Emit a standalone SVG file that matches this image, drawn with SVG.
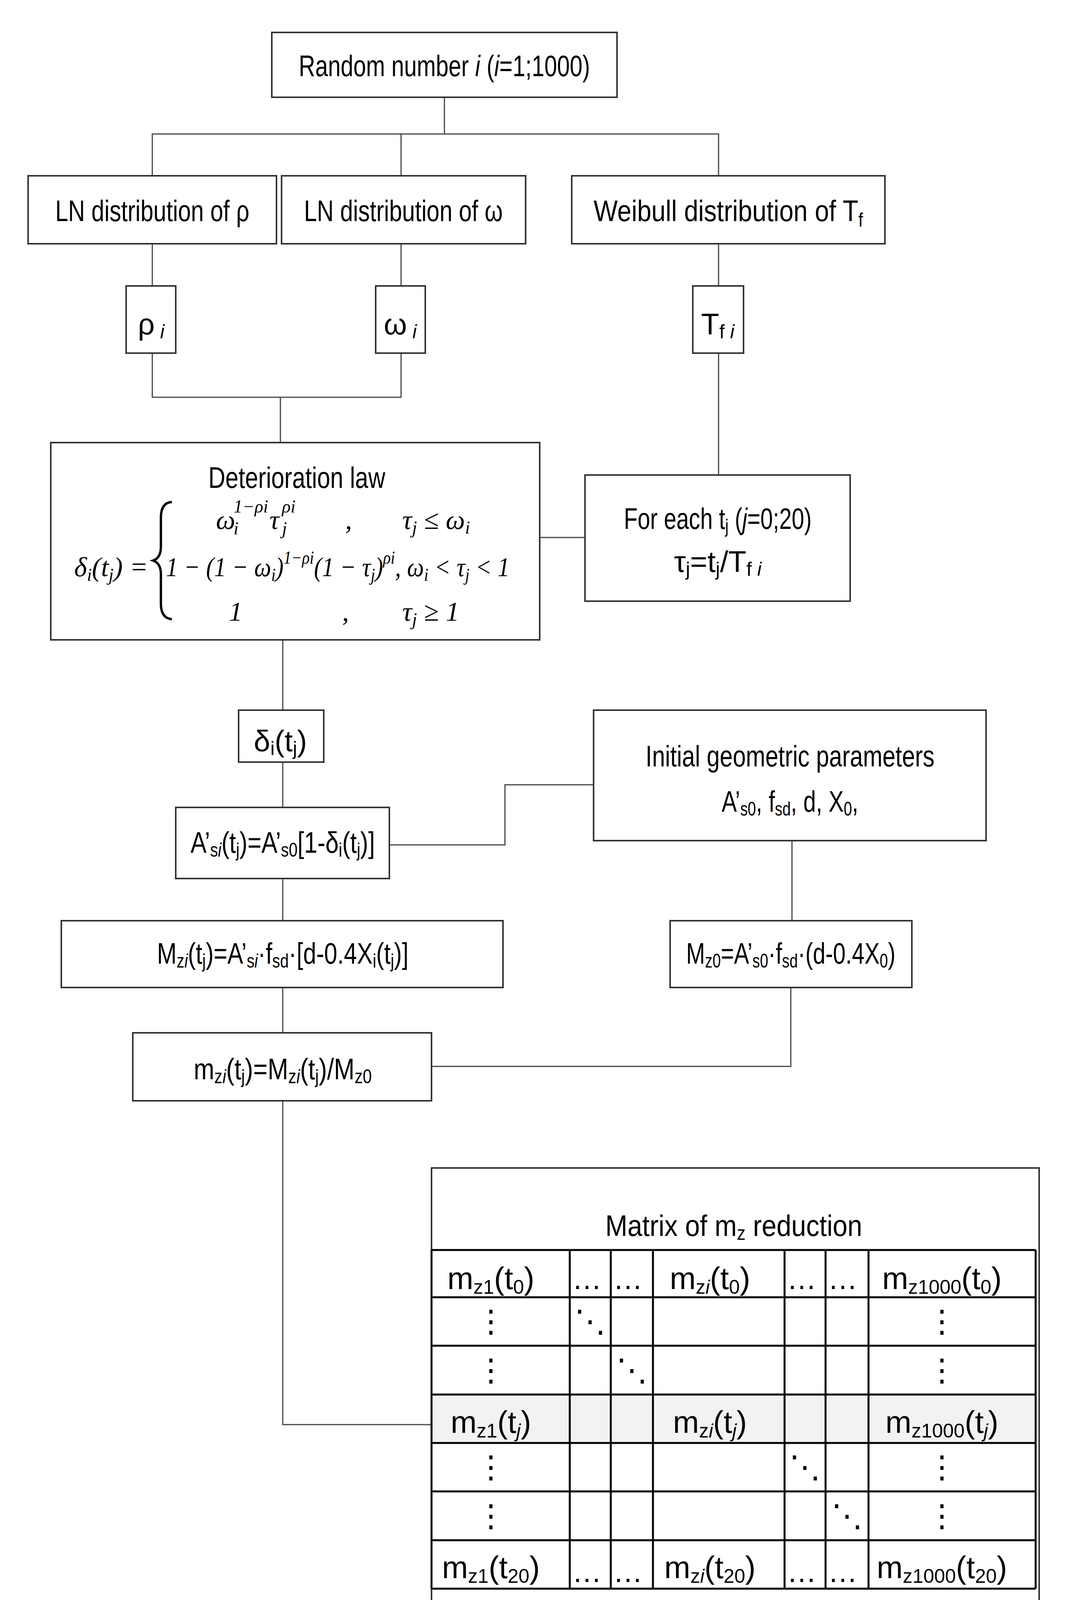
<svg xmlns="http://www.w3.org/2000/svg" width="2763" height="4377" viewBox="0 0 2763 4377">
<style>
.b{fill:#fff;stroke:#333;stroke-width:4}
.c{fill:none;stroke:#444;stroke-width:3}
.g{stroke:#000;stroke-width:5}
text{font-family:"Liberation Sans Narrow","Liberation Sans",sans-serif;font-size:76px;fill:#000}
.m{text-anchor:middle}
.f{font-family:"Liberation Serif",serif;font-style:italic;font-size:70px}
.s{font-size:50px}
.fs{font-family:"Liberation Serif",serif;font-style:italic;font-size:46px}
.d{font-size:80px;text-anchor:middle}
</style>
<rect width="2763" height="4377" fill="#fff"/>
<g id="connectors">
<path class="c" d="M1138 249V343M390 450V343H1840V450M1027 343V450"/>
<path class="c" d="M390 624V732M1027 624V732M1840 624V732"/>
<path class="c" d="M390 904V1017H1027V904M718 1017V1133"/>
<path class="c" d="M1840 904V1216M1382 1376H1498"/>
<path class="c" d="M724 1638V1818M724 1951V2067M724 2249V2357M724 2528V2644"/>
<path class="c" d="M997 2163H1293V2009H1520M2028 2152V2357M1105 2730H2025V2528"/>
<path class="c" d="M724 2818V3647H1105"/>
</g>
<g id="n1"><rect class="b" x="696" y="83" width="884" height="166"/><text class="m" x="1138" y="195" textLength="746" lengthAdjust="spacingAndGlyphs">Random number <tspan font-style="italic">i</tspan> (<tspan font-style="italic">i</tspan>=1;1000)</text></g>
<g id="n2"><rect class="b" x="72" y="450" width="636" height="174"/><text class="m" x="390" y="566" textLength="497" lengthAdjust="spacingAndGlyphs">LN distribution of ρ</text></g>
<g id="n3"><rect class="b" x="721" y="450" width="625" height="174"/><text class="m" x="1033" y="566" textLength="509" lengthAdjust="spacingAndGlyphs">LN distribution of ω</text></g>
<g id="n4"><rect class="b" x="1464" y="450" width="802" height="174"/><text class="m" x="1865" y="566" textLength="690" lengthAdjust="spacingAndGlyphs">Weibull distribution of T<tspan class="s" dy="14">f</tspan></text></g>
<g id="n5"><rect class="b" x="323" y="732" width="127" height="172"/><text class="m" x="387" y="856">ρ<tspan class="s" font-style="italic" dy="10"> i</tspan></text></g>
<g id="n6"><rect class="b" x="962" y="732" width="127" height="172"/><text class="m" x="1025" y="856">ω<tspan class="s" font-style="italic" dy="10"> i</tspan></text></g>
<g id="n7"><rect class="b" x="1774" y="732" width="130" height="172"/><text class="m" x="1838" y="856">T<tspan class="s" dy="10">f <tspan font-style="italic">i</tspan></tspan></text></g>
<g id="n8"><rect class="b" x="130" y="1133" width="1252" height="505"/>
<text class="m" x="760" y="1249" textLength="453" lengthAdjust="spacingAndGlyphs">Deterioration law</text>
<text class="f" x="553" y="1354">ω</text><text class="fs" x="598" y="1368">i</text><text class="fs" x="598" y="1312">1−ρi</text>
<text class="f" x="690" y="1354">τ</text><text class="fs" x="722" y="1368">j</text><text class="fs" x="722" y="1312">ρi</text>
<text class="f" x="884" y="1354">,</text>
<text class="f" x="1030" y="1354">τ<tspan class="fs" dy="12">j</tspan><tspan dy="-12"> ≤ ω</tspan><tspan class="fs" dy="12">i</tspan></text>
<text class="f" x="190" y="1475">δ<tspan class="fs" dy="12">i</tspan><tspan dy="-12">(t</tspan><tspan class="fs" dy="12">j</tspan><tspan dy="-12">) =</tspan></text>
<path d="M440 1285Q412 1287 412 1325V1400Q412 1428 392 1435Q412 1442 412 1470V1545Q412 1583 440 1585" fill="none" stroke="#000" stroke-width="6"/>
<text class="f" x="425" y="1475" textLength="880" lengthAdjust="spacingAndGlyphs">1 − (1 − ω<tspan class="fs" dy="12">i</tspan><tspan dy="-12">)</tspan><tspan class="fs" dy="-32">1−ρi</tspan><tspan dy="32">(1 − τ</tspan><tspan class="fs" dy="12">j</tspan><tspan dy="-12">)</tspan><tspan class="fs" dy="-32">ρi</tspan><tspan dy="32">, ω</tspan><tspan class="fs" dy="12">i</tspan><tspan dy="-12"> &lt; τ</tspan><tspan class="fs" dy="12">j</tspan><tspan dy="-12"> &lt; 1</tspan></text>
<text class="f" x="586" y="1589">1</text><text class="f" x="876" y="1589">,</text>
<text class="f" x="1030" y="1589">τ<tspan class="fs" dy="12">j</tspan><tspan dy="-12"> ≥ 1</tspan></text>
</g>
<g id="n9"><rect class="b" x="1498" y="1216" width="679" height="323"/>
<text class="m" x="1838" y="1354" textLength="481" lengthAdjust="spacingAndGlyphs">For each t<tspan class="s" dy="10">j</tspan><tspan dy="-10"> (</tspan><tspan font-style="italic">j</tspan>=0;20)</text>
<text class="m" x="1838" y="1464">τ<tspan class="s" dy="10">j</tspan><tspan dy="-10">=t</tspan><tspan class="s" dy="10">j</tspan><tspan dy="-10">/T</tspan><tspan class="s" dy="10">f <tspan font-style="italic">i</tspan></tspan></text>
</g>
<g id="n10"><rect class="b" x="611" y="1818" width="218" height="133"/><text class="m" x="718" y="1923">δ<tspan class="s" dy="10">i</tspan><tspan dy="-10">(t</tspan><tspan class="s" dy="10">j</tspan><tspan dy="-10">)</tspan></text></g>
<g id="n11"><rect class="b" x="1520" y="1818" width="1005" height="334"/>
<text class="m" x="2023" y="1962" textLength="740" lengthAdjust="spacingAndGlyphs">Initial geometric parameters</text>
<text class="m" x="2023" y="2078" textLength="350" lengthAdjust="spacingAndGlyphs">A’<tspan class="s" dy="10">s0</tspan><tspan dy="-10">, f</tspan><tspan class="s" dy="10">sd</tspan><tspan dy="-10">, d, X</tspan><tspan class="s" dy="10">0</tspan><tspan dy="-10">,</tspan></text>
</g>
<g id="n12"><rect class="b" x="450" y="2067" width="547" height="182"/><text class="m" x="724" y="2183" textLength="472" lengthAdjust="spacingAndGlyphs">A’<tspan class="s" dy="10">s<tspan font-style="italic">i</tspan></tspan><tspan dy="-10">(t</tspan><tspan class="s" dy="10">j</tspan><tspan dy="-10">)=A’</tspan><tspan class="s" dy="10">s0</tspan><tspan dy="-10">[1-δ</tspan><tspan class="s" dy="10">i</tspan><tspan dy="-10">(t</tspan><tspan class="s" dy="10">j</tspan><tspan dy="-10">)]</tspan></text></g>
<g id="n13"><rect class="b" x="157" y="2357" width="1131" height="171"/><text class="m" x="724" y="2467" textLength="644" lengthAdjust="spacingAndGlyphs">M<tspan class="s" dy="10">z<tspan font-style="italic">i</tspan></tspan><tspan dy="-10">(t</tspan><tspan class="s" dy="10">j</tspan><tspan dy="-10">)=A’</tspan><tspan class="s" dy="10">s<tspan font-style="italic">i</tspan></tspan><tspan dy="-10">·f</tspan><tspan class="s" dy="10">sd</tspan><tspan dy="-10">·[d-0.4X</tspan><tspan class="s" dy="10">i</tspan><tspan dy="-10">(t</tspan><tspan class="s" dy="10">j</tspan><tspan dy="-10">)]</tspan></text></g>
<g id="n14"><rect class="b" x="1716" y="2357" width="619" height="171"/><text class="m" x="2025" y="2467" textLength="536" lengthAdjust="spacingAndGlyphs">M<tspan class="s" dy="10">z0</tspan><tspan dy="-10">=A’</tspan><tspan class="s" dy="10">s0</tspan><tspan dy="-10">·f</tspan><tspan class="s" dy="10">sd</tspan><tspan dy="-10">·(d-0.4X</tspan><tspan class="s" dy="10">0</tspan><tspan dy="-10">)</tspan></text></g>
<g id="n15"><rect class="b" x="340" y="2644" width="765" height="174"/><text class="m" x="724" y="2763" textLength="456" lengthAdjust="spacingAndGlyphs">m<tspan class="s" dy="10">z<tspan font-style="italic">i</tspan></tspan><tspan dy="-10">(t</tspan><tspan class="s" dy="10">j</tspan><tspan dy="-10">)=M</tspan><tspan class="s" dy="10">z<tspan font-style="italic">i</tspan></tspan><tspan dy="-10">(t</tspan><tspan class="s" dy="10">j</tspan><tspan dy="-10">)/M</tspan><tspan class="s" dy="10">z0</tspan></text></g>
<g id="matrix">
<rect class="b" x="1105" y="2990" width="1556" height="1287" stroke-width="3"/>
<text class="m" x="1879" y="3164" textLength="658" lengthAdjust="spacingAndGlyphs">Matrix of m<tspan class="s" dy="10">z</tspan><tspan dy="-10"> reduction</tspan></text>
<rect x="1105" y="3570" width="1547" height="124" fill="#f2f2f2"/>
<path class="g" fill="none" d="M1105 3200H2652M1105 3321H2652M1105 3445H2652M1105 3570H2652M1105 3694H2652M1105 3818H2652M1105 3943H2652M1105 4067H2652M1105 3200V4067M1459 3200V4067M1564 3200V4067M1672 3200V4067M2009 3200V4067M2114 3200V4067M2224 3200V4067M2652 3200V4067"/>
<g font-size="86px">
<text class="d" x="1257" y="3300">m<tspan class="s" dy="12">z1</tspan><tspan dy="-12">(t</tspan><tspan class="s" dy="12">0</tspan><tspan dy="-12">)</tspan></text>
<text class="d" x="1818" y="3300">m<tspan class="s" dy="12">z<tspan font-style="italic">i</tspan></tspan><tspan dy="-12">(t</tspan><tspan class="s" dy="12">0</tspan><tspan dy="-12">)</tspan></text>
<text class="d" x="2412" y="3300">m<tspan class="s" dy="12">z1000</tspan><tspan dy="-12">(t</tspan><tspan class="s" dy="12">0</tspan><tspan dy="-12">)</tspan></text>
<text class="d" x="1257" y="3668">m<tspan class="s" dy="12">z1</tspan><tspan dy="-12">(t</tspan><tspan class="s" dy="12" font-style="italic">j</tspan><tspan dy="-12">)</tspan></text>
<text class="d" x="1818" y="3668">m<tspan class="s" dy="12">z<tspan font-style="italic">i</tspan></tspan><tspan dy="-12">(t</tspan><tspan class="s" dy="12" font-style="italic">j</tspan><tspan dy="-12">)</tspan></text>
<text class="d" x="2412" y="3668">m<tspan class="s" dy="12">z1000</tspan><tspan dy="-12">(t</tspan><tspan class="s" dy="12" font-style="italic">j</tspan><tspan dy="-12">)</tspan></text>
<text class="d" x="1257" y="4040">m<tspan class="s" dy="12">z1</tspan><tspan dy="-12">(t</tspan><tspan class="s" dy="12">20</tspan><tspan dy="-12">)</tspan></text>
<text class="d" x="1818" y="4040">m<tspan class="s" dy="12">z<tspan font-style="italic">i</tspan></tspan><tspan dy="-12">(t</tspan><tspan class="s" dy="12">20</tspan><tspan dy="-12">)</tspan></text>
<text class="d" x="2412" y="4040">m<tspan class="s" dy="12">z1000</tspan><tspan dy="-12">(t</tspan><tspan class="s" dy="12">20</tspan><tspan dy="-12">)</tspan></text>
<g font-size="64px"><text x="1465" y="3300">…</text><text x="1570" y="3300">…</text><text x="2015" y="3300">…</text><text x="2120" y="3300">…</text>
<text x="1465" y="4050">…</text><text x="1570" y="4050">…</text><text x="2015" y="4050">…</text><text x="2120" y="4050">…</text></g>
<text class="d" x="1257" y="3410">⋮</text><text class="d" x="2412" y="3410">⋮</text>
<text class="d" x="1257" y="3535">⋮</text><text class="d" x="2412" y="3535">⋮</text>
<text class="d" x="1257" y="3783">⋮</text><text class="d" x="2412" y="3783">⋮</text>
<text class="d" x="1257" y="3908">⋮</text><text class="d" x="2412" y="3908">⋮</text>
<text class="d" x="1511" y="3410">⋱</text><text class="d" x="1618" y="3535">⋱</text>
<text class="d" x="2061" y="3783">⋱</text><text class="d" x="2169" y="3908">⋱</text>
</g>
</g>
</svg>
